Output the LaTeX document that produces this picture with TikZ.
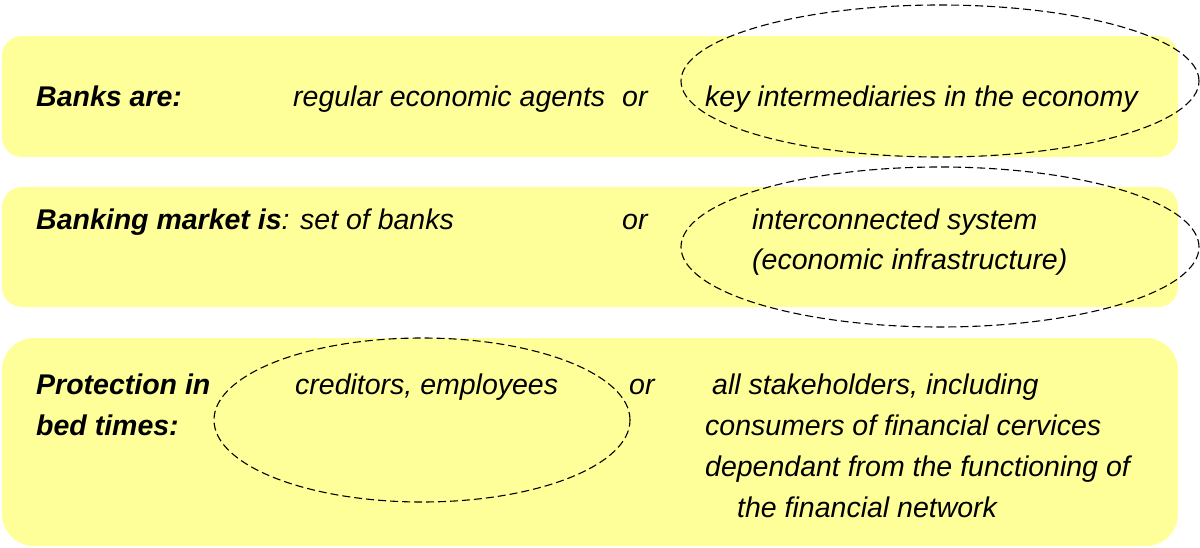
\documentclass[tikz,border=0pt]{standalone}
\usepackage{fontspec}
\setmainfont{Liberation Sans}
\usepackage{xcolor}
\usepackage{tikz}
\definecolor{boxyellow}{RGB}{255,255,153}
\tikzset{
  txt/.style={anchor=base west,inner sep=0pt,font=\fontsize{28.5}{41}\selectfont\itshape},
  lbl/.style={txt,font=\fontsize{28.5}{41}\selectfont\bfseries\itshape},
  oval/.style={draw=black,line width=1.1pt,dash pattern=on 8pt off 4pt}
}

\begin{document}
\begin{tikzpicture}[x=1pt,y=-1pt]
        \useasboundingbox (0,0) rectangle (1200,548);

        % the three yellow bands
        \fill[boxyellow,rounded corners=20pt] (2,36) rectangle (1178,157);
        \fill[boxyellow,rounded corners=20pt] (2,187) rectangle (1178,307);
        \fill[boxyellow,rounded corners=32pt] (2,338) rectangle (1178,546);

        % first band
        \node[lbl] (banks) at (36,107) {Banks are:};
        \node[txt] (agents) at (293,107) {regular economic agents};
        \node[txt] (orA) at (622,107) {or};
        \node[txt] (keyint) at (705,107) {key intermediaries in the economy};

        % second band
        \node[txt] (market) at (36,230) {{\bfseries Banking market is}: set of banks};
        \node[txt] (orB) at (622,230) {or};
        \node[txt] (system) at (752,230) {interconnected system};
        \node[txt] (infra) at (752,270) {(economic infrastructure)};

        % third band
        \node[lbl] (protA) at (36,394) {Protection in};
        \node[lbl] (protB) at (36,435) {bed times:};
        \node[txt] (creditors) at (295,394) {creditors, employees};
        \node[txt] (orC) at (629,394) {or};
        \node[txt] (stakeA) at (712,394) {all stakeholders, including};
        \node[txt] (stakeB) at (705,435) {consumers of financial cervices};
        \node[txt] (stakeC) at (705,476) {dependant from the functioning of};
        \node[txt] (stakeD) at (737,517) {the financial network};

        % dashed ovals
        \draw[oval] (940,81) ellipse [x radius=259pt,y radius=76pt];
        \draw[oval] (940,247) ellipse [x radius=259pt,y radius=80pt];
        \draw[oval] (422,420) ellipse [x radius=208pt,y radius=82pt];
\end{tikzpicture}
\end{document}
